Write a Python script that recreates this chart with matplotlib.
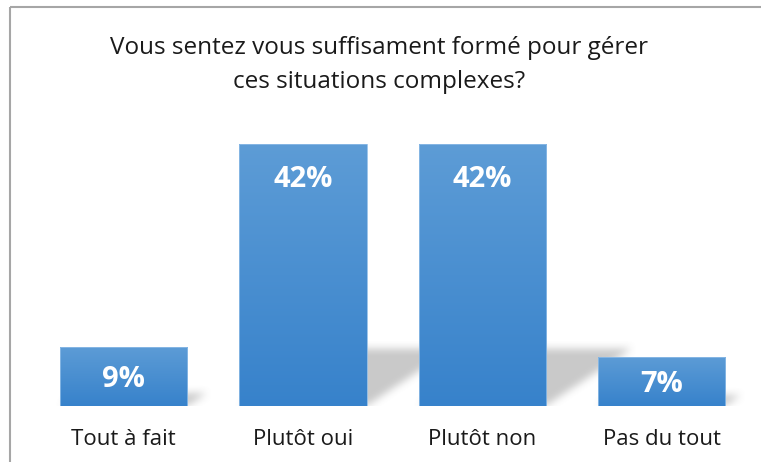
import numpy as np
import matplotlib
matplotlib.use("Agg")
import matplotlib.pyplot as plt
import matplotlib.transforms as mtransforms
from matplotlib.colors import LinearSegmentedColormap
from matplotlib.lines import Line2D

# ---- data ----
categories = ["Tout à fait", "Plutôt oui", "Plutôt non", "Pas du tout"]
values = [9.5, 42, 42, 7.9]
value_labels = ["9%", "42%", "42%", "7%"]
title_lines = ["Vous sentez vous suffisament formé pour gérer",
               "ces situations complexes?"]

plt.rcParams['font.family'] = ['Open Sans', 'DejaVu Sans']

W, H = 761, 462
fig = plt.figure(figsize=(W / 100, H / 100), dpi=100)
fig.patch.set_facecolor("white")

ax_left, ax_right, ax_bottom, ax_top = 10, 761, 406, 110  # pixels
ax = fig.add_axes([ax_left / W, 1 - ax_bottom / H,
                   (ax_right - ax_left) / W, (ax_bottom - ax_top) / H])
xlim = (-0.634, 3.554)
ylim = (0, 47.54)
ax.set_xlim(*xlim)
ax.set_ylim(*ylim)
ax.axis("off")

x = np.arange(len(categories))
bw = 0.711

# pixel scales
sx = (ax_right - ax_left) / (xlim[1] - xlim[0])
sy = (ax_bottom - ax_top) / (ylim[1] - ylim[0])

# ---- shadows (perspective, blurred) ----
ys_max = 16.0
nx, ny = int((ax_right - ax_left)), int(ys_max * sy)
gx = np.linspace(xlim[0], xlim[1], nx)
gy = np.linspace(-2.0, ys_max, ny + int(2 * sy))
GX, GY = np.meshgrid(gx, gy)
mask = np.zeros_like(GX)
for xi, v in zip(x, values):
    h_px = 0.22 * v * sy
    ypx = GY * sy
    xpx = GX * sx
    shift = 1.5 * ypx
    x0 = (xi - bw / 2) * sx
    x1 = (xi + bw / 2) * sx
    inside = (ypx >= 0) & (ypx <= h_px) & (xpx >= x0 + shift) & (xpx <= x1 + shift)
    mask = np.maximum(mask, inside.astype(float))

def blur(a, r):
    k = np.ones(2 * r + 1) / (2 * r + 1)
    for _ in range(2):
        a = np.apply_along_axis(lambda m: np.convolve(m, k, mode="same"), 0, a)
        a = np.apply_along_axis(lambda m: np.convolve(m, k, mode="same"), 1, a)
    return a

mask = blur(mask, 4)
rgba = np.zeros(mask.shape + (4,))
rgba[..., :3] = 0.5
rgba[..., 3] = mask * 0.42
ax.imshow(rgba, extent=(gx[0], gx[-1], gy[0], gy[-1]), origin="lower",
          aspect="auto", zorder=1, interpolation="bilinear")

# ---- bars with vertical gradient ----
cmap = LinearSegmentedColormap.from_list("g", ["#3782cb", "#5d9cd6"])
bars = ax.bar(x, values, width=bw, color="#4a8fd0", zorder=2, linewidth=0)
grad = np.linspace(0, 1, 256).reshape(-1, 1)
for b in bars:
    bx, by = b.get_x(), b.get_y()
    im = ax.imshow(grad, extent=(bx, bx + b.get_width(), by, by + b.get_height()),
                   origin="lower", aspect="auto", cmap=cmap, zorder=3)
    im.set_clip_path(b)
ax.bar(x, values, width=bw, fill=False, edgecolor="#8dbbe6", linewidth=0.6, zorder=4)

# ---- value labels ----
for xi, v, lab in zip(x, values, value_labels):
    center = max(v / 2, v - 32 / sy)
    ax.text(xi, center - 10.5 / sy, lab, ha="center", va="baseline",
            color="white", fontsize=21, fontweight="bold", zorder=5)

# ---- category labels ----
trans = mtransforms.blended_transform_factory(ax.transData, fig.transFigure)
for xi, c in zip(x, categories):
    ax.text(xi, 1 - 445 / H, c, transform=trans, ha="center", va="baseline",
            fontsize=16, color="#1a1a1a", clip_on=False)

# ---- title ----
fig.text(379 / W, 1 - 53.5 / H, title_lines[0], ha="center", va="baseline",
         fontsize=17.5, color="#1a1a1a")
fig.text(379 / W, 1 - 88.5 / H, title_lines[1], ha="center", va="baseline",
         fontsize=17.5, color="#1a1a1a")

# ---- frame border ----
fig.add_artist(Line2D([9.5 / W, 9.5 / W], [1 - 6.5 / H, 0], transform=fig.transFigure,
                      color="#a6a6a6", linewidth=1.5, solid_capstyle="butt"))
fig.add_artist(Line2D([9.5 / W, 1], [1 - 6.5 / H, 1 - 6.5 / H], transform=fig.transFigure,
                      color="#a6a6a6", linewidth=1.5, solid_capstyle="butt"))

fig.savefig("out.png", dpi=100, facecolor="white")
